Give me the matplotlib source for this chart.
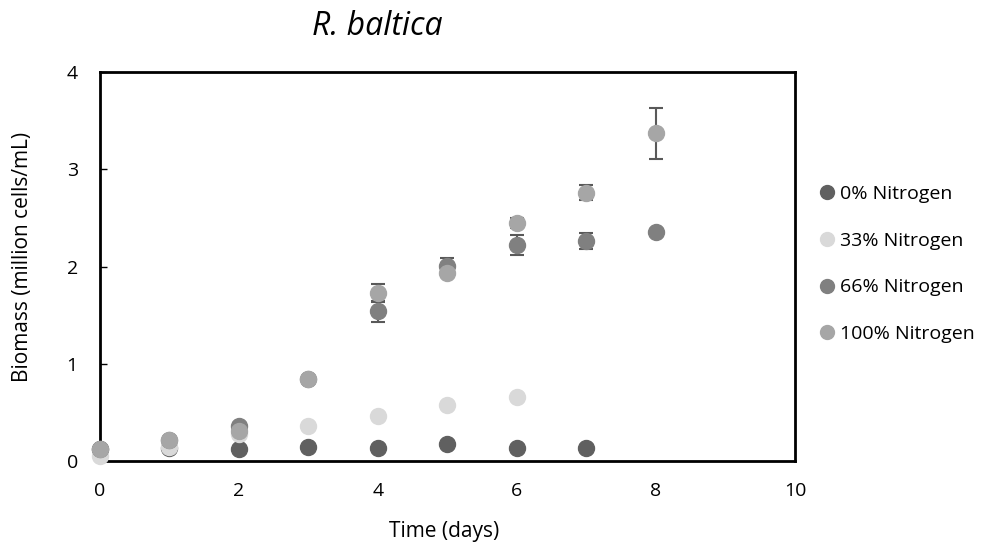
import numpy as np
import matplotlib
matplotlib.use('Agg')
import matplotlib.pyplot as plt

plt.rcParams['font.family'] = ['Open Sans', 'DejaVu Sans']

# data
days = [0, 1, 2, 3, 4, 5, 6, 7, 8]
n0 = [0.13, 0.14, 0.13, 0.15, 0.14, 0.18, 0.14, 0.14]
n33 = [0.05, 0.15, 0.28, 0.36, 0.46, 0.58, 0.66]
n66 = [0.13, 0.22, 0.36, 0.84, 1.54, 2.01, 2.22, 2.26, 2.36]
n66_err = [0.0, 0.0, 0.0, 0.0, 0.11, 0.08, 0.10, 0.08, 0.0]
n100 = [0.12, 0.22, 0.31, 0.84, 1.73, 1.93, 2.45, 2.76, 3.37]
n100_err = [0.0, 0.0, 0.0, 0.0, 0.09, 0.03, 0.05, 0.08, 0.26]

labels = ['0% Nitrogen', '33% Nitrogen', '66% Nitrogen', '100% Nitrogen']
colors = ['#606060', '#d9d9d9', '#808080', '#a6a6a6']

fig = plt.figure(figsize=(9.92, 5.49), dpi=100)
ax = fig.add_axes([0.1008, 0.160, 0.7006, 0.709])

series = [(n0, None), (n33, None), (n66, n66_err), (n100, n100_err)]
for (vals, err), lab, col in zip(series, labels, colors):
    x = days[:len(vals)]
    if err is not None:
        ax.errorbar(x, vals, yerr=err, fmt='none', ecolor='#595959',
                    elinewidth=1.5, capsize=5, capthick=1.5, zorder=2)
    ax.plot(x, vals, 'o', color=col, markersize=11.5, label=lab,
            zorder=3, clip_on=False)

ax.set_xlim(0, 10)
ax.set_ylim(0, 4)
ax.set_xticks([0, 2, 4, 6, 8, 10])
ax.set_yticks([0, 1, 2, 3, 4])
ax.tick_params(axis='x', length=0, labelsize=14, pad=15)
ax.tick_params(axis='y', direction='in', length=5, width=1, labelsize=14, pad=16)
for s in ax.spines.values():
    s.set_linewidth(2)
    s.set_color('black')

fig.text(0.380, 0.952, 'R. baltica', fontsize=23, style='italic',
         ha='center', va='center')
fig.text(0.023, 0.532, 'Biomass (million cells/mL)', fontsize=15,
         rotation=90, ha='center', va='center')
fig.text(0.4476, 0.032, 'Time (days)', fontsize=15, ha='center', va='center')

ax.legend(loc='center left', bbox_to_anchor=(0.827, 0.519),
          bbox_transform=fig.transFigure, frameon=False, borderpad=0,
          borderaxespad=0, fontsize=14, handletextpad=0.32,
          labelspacing=1.47, markerscale=0.87, handlelength=0.7)

fig.savefig('out.png', dpi=100)
